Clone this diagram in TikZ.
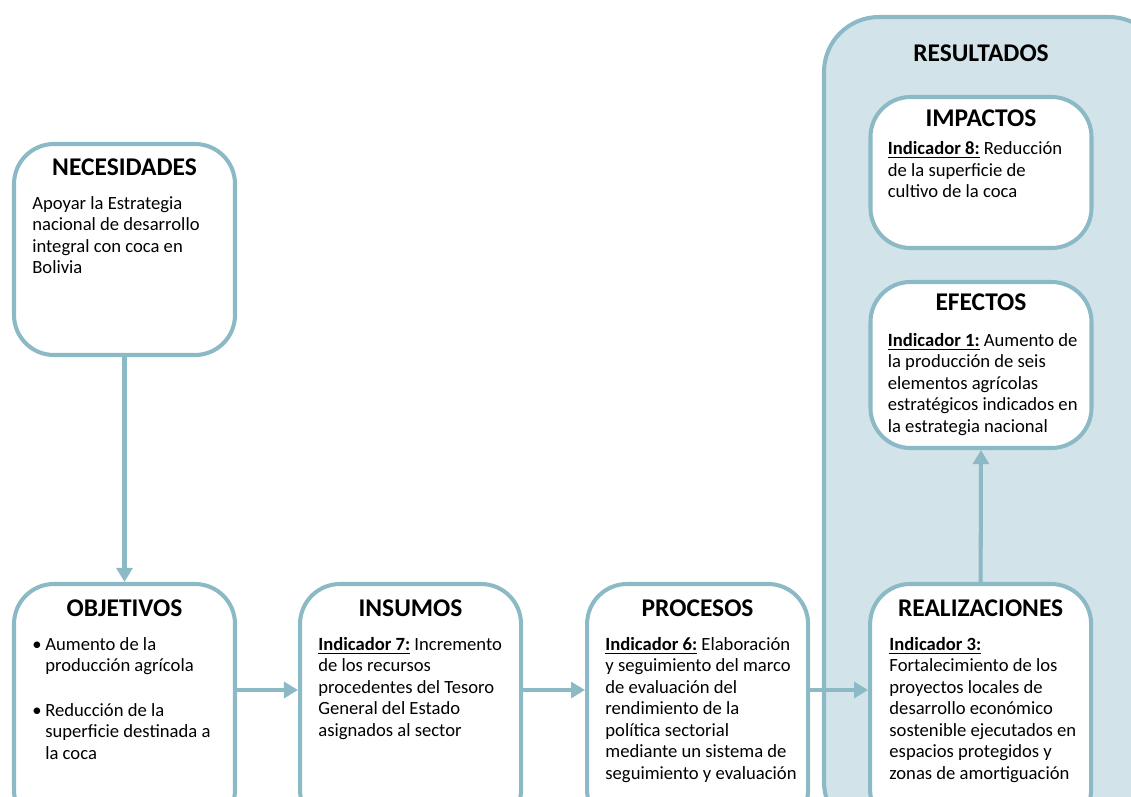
\documentclass[tikz,border=0pt]{standalone}
\usepackage{fontspec}
\setmainfont{Carlito}
\usetikzlibrary{arrows.meta,positioning}

\definecolor{marco}{RGB}{140,185,198}
\definecolor{fondo}{RGB}{210,228,233}
\newcommand{\indic}[1]{\underline{\textbf{#1}}}

\begin{document}
\begin{tikzpicture}[
                    caja/.style={draw=marco,line width=2.3pt,rounded corners=0.8cm,
                                 fill=white,minimum width=4.42cm},
                    titulo/.style={font=\bfseries\fontsize{14.5}{16}\selectfont,inner sep=0pt},
                    texto/.style={font=\fontsize{10.6}{12.2}\selectfont,align=left,
                                  anchor=north west,inner sep=0pt},
                    flecha/.style={draw=marco,line width=2.3pt,
                                   -{Triangle[width=9pt,length=8pt]}},
                    node distance=1.22cm
                ]
                \useasboundingbox (0,0) rectangle (22.62,-15.94);
                \clip (0,0) rectangle (22.62,-15.94);

                % caja grande de resultados
                \node[caja,fill=fondo,rounded corners=1.1cm,minimum width=6.8cm,
                      minimum height=16.4cm] (res) at (19.88,-8.54) {};

                % cajas
                \node[caja,minimum height=4.22cm] (nec) at (2.49,-4.99) {};
                \node[caja,minimum height=4.92cm] (obj) at (2.49,-14.14) {};
                \node[caja,minimum height=4.92cm] (ins) [right=1.22cm of obj] {};
                \node[caja,minimum height=4.92cm] (proc) [right=1.24cm of ins] {};
                \node[caja,minimum height=4.92cm] (real) [right=1.16cm of proc] {};
                \node[caja,minimum height=3.02cm] (imp) at (19.62,-3.45) {};
                \node[caja,minimum height=3.32cm] (efe) at (19.62,-7.3) {};

                % titulos
                \node[titulo] (t-res) at ([yshift=-0.76cm]res.north -| imp.north) {RESULTADOS};
                \node[titulo] (t-nec) at ([yshift=-0.5cm]nec.north) {NECESIDADES};
                \node[titulo] (t-obj) at ([yshift=-0.52cm]obj.north) {OBJETIVOS};
                \node[titulo] (t-ins) at ([yshift=-0.52cm]ins.north) {INSUMOS};
                \node[titulo] (t-proc) at ([yshift=-0.52cm]proc.north) {PROCESOS};
                \node[titulo] (t-real) at ([yshift=-0.52cm]real.north) {REALIZACIONES};
                \node[titulo] (t-imp) at ([yshift=-0.46cm]imp.north) {IMPACTOS};
                \node[titulo] (t-efe) at ([yshift=-0.44cm]efe.north) {EFECTOS};

                % textos
                \node[texto] (x-nec) at ([xshift=0.4cm,yshift=-1.08cm]nec.north west)
                    {Apoyar la Estrategia\\nacional de desarrollo\\integral con coca en\\Bolivia};
                \node[texto] (x-obj) at ([xshift=0.4cm,yshift=-1.1cm]obj.north west)
                    {\makebox[0.26cm][l]{\textbullet}Aumento de la\\
                     \hspace*{0.26cm}producción agrícola\\[0.46cm]
                     \makebox[0.26cm][l]{\textbullet}Reducción de la\\
                     \hspace*{0.26cm}superficie destinada a\\
                     \hspace*{0.26cm}la coca};
                \node[texto] (x-ins) at ([xshift=0.4cm,yshift=-1.1cm]ins.north west)
                    {\indic{Indicador 7:} Incremento\\de los recursos\\procedentes del Tesoro\\
                     General del Estado\\asignados al sector};
                \node[texto] (x-proc) at ([xshift=0.4cm,yshift=-1.1cm]proc.north west)
                    {\indic{Indicador 6:} Elaboración\\y seguimiento del marco\\de evaluación del\\
                     rendimiento de la\\política sectorial\\mediante un sistema de\\
                     seguimiento y evaluación};
                \node[texto] (x-real) at ([xshift=0.42cm,yshift=-1.1cm]real.north west)
                    {\indic{Indicador 3:}\\Fortalecimiento de los\\proyectos locales de\\
                     desarrollo económico\\sostenible ejecutados en\\espacios protegidos y\\
                     zonas de amortiguación};
                \node[texto] (x-imp) at ([xshift=0.38cm,yshift=-0.93cm]imp.north west)
                    {\indic{Indicador 8:} Reducción\\de la superficie de\\cultivo de la coca};
                \node[texto] (x-efe) at ([xshift=0.38cm,yshift=-1.06cm]efe.north west)
                    {\indic{Indicador 1:} Aumento de\\la producción de seis\\elementos agrícolas\\
                     estratégicos indicados en\\la estrategia nacional};

                % flechas
                \coordinate (fila) at (0,-13.8);
                \draw[flecha] (nec.south) -- (obj.north);
                \draw[flecha] (obj.east |- fila) -- (ins.west |- fila);
                \draw[flecha] (ins.east |- fila) -- (proc.west |- fila);
                \draw[flecha] (proc.east |- fila) -- (real.west |- fila);
                \draw[flecha] (real.north) -- (efe.south);
            \end{tikzpicture}
\end{document}
